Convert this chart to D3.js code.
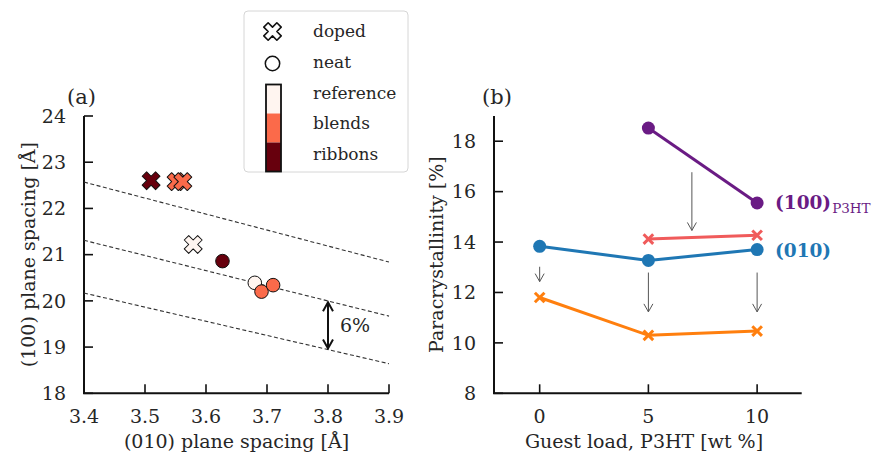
<!DOCTYPE html>
<html>
<head>
<meta charset="utf-8">
<script src="https://cdn.jsdelivr.net/npm/d3@7"></script>
<style>
  html, body { margin: 0; padding: 0; background: #fff; }
  svg text { font-family: "DejaVu Serif", serif; fill: #262626; }
</style>
</head>
<body>
<svg id="chart" width="883" height="463"></svg>
<script>
// ---- panel (a): plane spacings ----
const groups = ["reference", "blends", "ribbons"];
const groupColors = ["#fff5f0", "#fb6a4a", "#67000d"];

// doped samples (X markers)
const dopedGroup = ["ribbons", "blends", "blends", "reference"];
const dopedD010 = [3.51, 3.551, 3.562, 3.579];
const dopedD100 = [22.6, 22.58, 22.58, 21.22];

// neat samples (circles)
const neatGroup = ["ribbons", "reference", "blends", "blends"];
const neatD010 = [3.627, 3.680, 3.691, 3.710];
const neatD100 = [20.86, 20.39, 20.20, 20.34];

// dashed guide lines (x0, y0, x1, y1)
const guideLines = [
  [3.4, 22.57, 3.9, 20.84],
  [3.4, 21.31, 3.9, 19.67],
  [3.4, 20.17, 3.9, 18.64]
];
const gapArrow = { x: 3.8, y0: 19.99, y1: 18.95, label: "6%" };

const xTicksA = [3.4, 3.5, 3.6, 3.7, 3.8, 3.9];
const yTicksA = [18, 19, 20, 21, 22, 23, 24];

// ---- panel (b): paracrystallinity ----
const load = [0, 5, 10];
const p100P3HT = [null, 18.52, 15.55];
const p100Doped = [null, 14.12, 14.27];
const p010 = [13.83, 13.27, 13.70];
const p010Doped = [11.80, 10.30, 10.47];

const shiftArrows = [
  { x: 0, y0: 13.02, y1: 12.43 },
  { x: 5, y0: 12.79, y1: 11.23 },
  { x: 10, y0: 12.79, y1: 11.23 },
  { x: 7, y0: 16.77, y1: 14.46 }
];

const xTicksB = [0, 5, 10];
const yTicksB = [8, 10, 12, 14, 16, 18];

const purple = "#6a1b84", pink = "#f05b5b", blue = "#1f77b4", orange = "#ff7f0e";

const svg = d3.select("#chart");
const colorOf = d3.scaleOrdinal(groups, groupColors);

const xA = d3.scaleLinear([3.4, 3.9], [84, 389]);
const yA = d3.scaleLinear([18, 24], [393.3, 116]);
const xB = d3.scaleLinear([-2.1, 12.05], [494, 801.7]);
const yB = d3.scaleLinear([8, 19], [393.3, 116]);

const fs = 19;

function drawAxes(x, y, xTicks, yTicks, xFmt, xLabel, yLabel, yLabelX, xLabelX) {
  const g = svg.append("g");
  const [x0, x1] = x.range();
  const [yb, yt] = y.range();
  g.append("path")
    .attr("d", `M${x0},${yt}V${yb}H${x1}`)
    .attr("fill", "none").attr("stroke", "#111").attr("stroke-width", 2);
  xTicks.forEach(t => {
    g.append("line").attr("x1", x(t)).attr("x2", x(t))
      .attr("y1", yb).attr("y2", yb - 9).attr("stroke", "#111").attr("stroke-width", 1.6);
    g.append("text").attr("x", x(t)).attr("y", yb + 30)
      .attr("text-anchor", "middle").attr("font-size", fs).text(xFmt(t));
  });
  yTicks.forEach(t => {
    g.append("line").attr("x1", x0).attr("x2", x0 + 9)
      .attr("y1", y(t)).attr("y2", y(t)).attr("stroke", "#111").attr("stroke-width", 1.6);
    g.append("text").attr("x", x0 - 18).attr("y", y(t)).attr("dy", "0.36em")
      .attr("text-anchor", "end").attr("font-size", fs).text(t);
  });
  g.append("text").attr("x", xLabelX).attr("y", 448)
    .attr("text-anchor", "middle").attr("font-size", fs).text(xLabel);
  g.append("text")
    .attr("transform", `translate(${yLabelX},${(yb + yt) / 2}) rotate(-90)`)
    .attr("text-anchor", "middle").attr("font-size", fs).text(yLabel);
}

// arrow markers
const defs = svg.append("defs");
function openHead(id, color, w, len, half) {
  defs.append("marker").attr("id", id)
    .attr("viewBox", "-12 -8 14 16").attr("refX", 0).attr("refY", 0)
    .attr("markerUnits", "userSpaceOnUse")
    .attr("markerWidth", 14).attr("markerHeight", 16)
    .attr("orient", "auto-start-reverse")
    .append("path").attr("d", `M${-len},${-half}L0,0L${-len},${half}`)
    .attr("fill", "none").attr("stroke", color).attr("stroke-width", w);
}
openHead("headBlack", "#111", 2, 9, 5);
openHead("headGray", "#555", 1, 8, 4.5);

// ---------- panel (a) ----------
drawAxes(xA, yA, xTicksA, yTicksA, d3.format(".1f"),
  "(010) plane spacing [Å]", "(100) plane spacing [Å]", 35, 236.5);

svg.append("g").selectAll("line").data(guideLines).join("line")
  .attr("x1", d => xA(d[0])).attr("y1", d => yA(d[1]))
  .attr("x2", d => xA(d[2])).attr("y2", d => yA(d[3]))
  .attr("stroke", "#333").attr("stroke-width", 1.1).attr("stroke-dasharray", "4,2.5");

svg.append("line")
  .attr("x1", xA(gapArrow.x)).attr("x2", xA(gapArrow.x))
  .attr("y1", yA(gapArrow.y0) + 1).attr("y2", yA(gapArrow.y1) - 1)
  .attr("stroke", "#111").attr("stroke-width", 2)
  .attr("marker-start", "url(#headBlack)").attr("marker-end", "url(#headBlack)");
svg.append("text").attr("x", xA(gapArrow.x) + 12)
  .attr("y", yA((gapArrow.y0 + gapArrow.y1) / 2)).attr("dy", "0.36em")
  .attr("font-size", fs).text(gapArrow.label);

const xSym = d3.symbol(d3.symbolCross, 200);
svg.append("g").selectAll("path").data(dopedD010).join("path")
  .attr("d", xSym)
  .attr("transform", (d, i) => `translate(${xA(d)},${yA(dopedD100[i])}) rotate(45)`)
  .attr("fill", (d, i) => colorOf(dopedGroup[i]))
  .attr("stroke", "#111").attr("stroke-width", 1).attr("stroke-linejoin", "round");

svg.append("g").selectAll("circle").data(neatD010).join("circle")
  .attr("cx", d => xA(d)).attr("cy", (d, i) => yA(neatD100[i])).attr("r", 6.8)
  .attr("fill", (d, i) => colorOf(neatGroup[i]))
  .attr("stroke", "#111").attr("stroke-width", 1);

// legend
const lg = svg.append("g");
lg.append("rect").attr("x", 244).attr("y", 11).attr("width", 164).attr("height", 161)
  .attr("rx", 4).attr("fill", "#fff").attr("fill-opacity", 0.85)
  .attr("stroke", "#d6d6d6").attr("stroke-width", 1);
lg.append("path").attr("d", d3.symbol(d3.symbolCross, 190))
  .attr("transform", "translate(272.5,31.5) rotate(45)")
  .attr("fill", "#fff").attr("stroke", "#111").attr("stroke-width", 1.6)
  .attr("stroke-linejoin", "round");
lg.append("circle").attr("cx", 272.5).attr("cy", 63.5).attr("r", 7.2)
  .attr("fill", "#fff").attr("stroke", "#111").attr("stroke-width", 1.5);
const barY = d3.scaleBand(groups, [84.5, 171.5]);
lg.selectAll("rect.bar").data(groups).join("rect").attr("class", "bar")
  .attr("x", 266).attr("width", 15)
  .attr("y", d => barY(d)).attr("height", barY.bandwidth())
  .attr("fill", d => colorOf(d));
lg.append("rect").attr("x", 266).attr("y", 84.5).attr("width", 15).attr("height", 87)
  .attr("fill", "none").attr("stroke", "#111").attr("stroke-width", 1.8);
const legendLabels = ["doped", "neat"].concat(groups);
const legendBase = [37, 68, 98.5, 129, 160];
lg.selectAll("text").data(legendLabels).join("text")
  .attr("x", 313).attr("y", (d, i) => legendBase[i])
  .attr("font-size", 17).text(d => d);

svg.append("text").attr("x", 67).attr("y", 104).attr("font-size", 21).text("(a)");

// ---------- panel (b) ----------
drawAxes(xB, yB, xTicksB, yTicksB, d3.format("d"),
  "Guest load, P3HT [wt %]", "Paracrystallinity [%]", 443, 644);

svg.append("g").selectAll("line").data(shiftArrows).join("line")
  .attr("x1", d => xB(d.x)).attr("x2", d => xB(d.x))
  .attr("y1", d => yB(d.y0)).attr("y2", d => yB(d.y1))
  .attr("stroke", "#555").attr("stroke-width", 1)
  .attr("marker-end", "url(#headGray)");

const series = [
  { values: p100P3HT, color: purple, mark: "circle" },
  { values: p100Doped, color: pink, mark: "x" },
  { values: p010, color: blue, mark: "circle" },
  { values: p010Doped, color: orange, mark: "x" }
];
const line = d3.line().x(d => xB(d[0])).y(d => yB(d[1]));
series.forEach(s => {
  const pts = load.map((l, i) => [l, s.values[i]]).filter(d => d[1] != null);
  const g = svg.append("g");
  g.append("path").attr("d", line(pts)).attr("fill", "none")
    .attr("stroke", s.color).attr("stroke-width", 3);
  if (s.mark === "circle") {
    g.selectAll("circle").data(pts).join("circle")
      .attr("cx", d => xB(d[0])).attr("cy", d => yB(d[1])).attr("r", 6.5)
      .attr("fill", s.color);
  } else {
    g.selectAll("path.m").data(pts).join("path").attr("class", "m")
      .attr("d", d => {
        const cx = xB(d[0]), cy = yB(d[1]), r = 4.8;
        return `M${cx - r},${cy - r}L${cx + r},${cy + r}M${cx - r},${cy + r}L${cx + r},${cy - r}`;
      })
      .attr("stroke", s.color).attr("stroke-width", 3).attr("fill", "none");
  }
});

const lab100 = svg.append("text").attr("x", 775).attr("y", yB(p100P3HT[2]) + 6)
  .attr("font-size", 18.5).attr("font-weight", "bold").style("fill", purple);
lab100.append("tspan").text("(100)");
lab100.append("tspan").attr("font-size", 13.5).attr("font-weight", "normal")
  .attr("dy", 4).attr("dx", 1).text("P3HT");
svg.append("text").attr("x", 775).attr("y", yB(p010[2]) + 7)
  .attr("font-size", 18.5).attr("font-weight", "bold").style("fill", blue).text("(010)");

svg.append("text").attr("x", 482).attr("y", 104).attr("font-size", 21).text("(b)");
</script>
</body>
</html>
